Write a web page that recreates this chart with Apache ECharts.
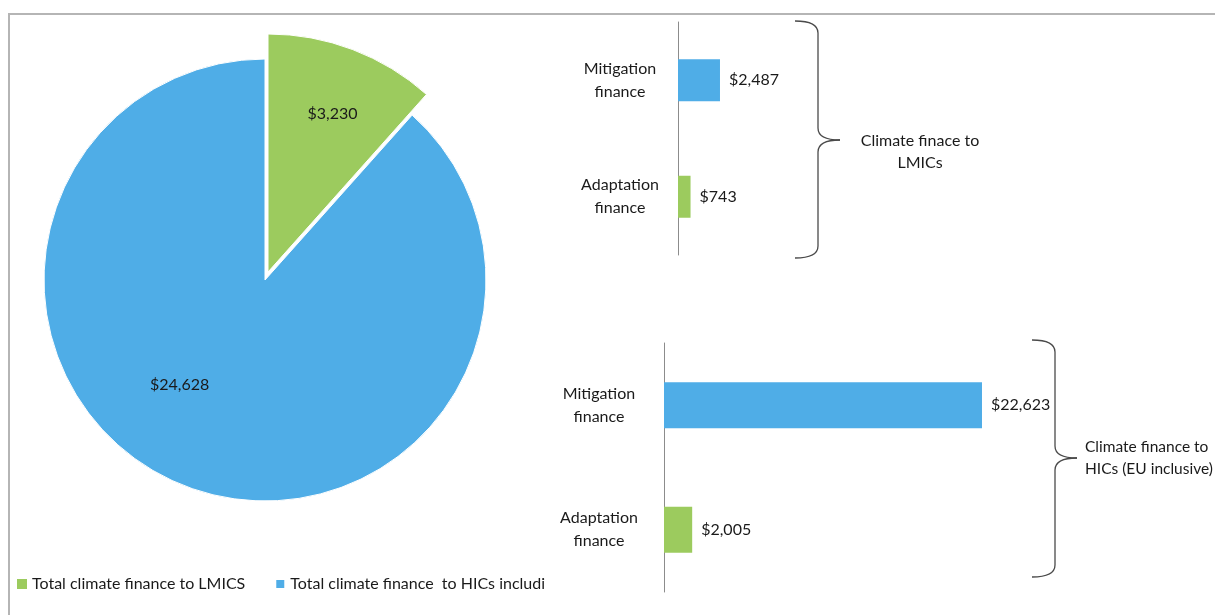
<!DOCTYPE html>
<html>
<head>
<meta charset="utf-8">
<script src="https://cdn.jsdelivr.net/npm/echarts@6/dist/echarts.min.js"></script>
<style>
  html, body { margin: 0; padding: 0; background: #fff; }
  #chart { width: 1215px; height: 615px; }
</style>
</head>
<body>
<div id="chart"></div>
<script>
// Climate finance split: pie of totals plus mitigation/adaptation breakdowns
const pieNames = ['Total climate finance to LMICS', 'Total climate finance  to HICs including EU'];
const pieValues = [3230, 24628];

const barCategories = ['Mitigation\nfinance', 'Adaptation\nfinance'];
const lmicValues = [2487, 743];
const hicValues = [22623, 2005];

const groupLabels = ['Climate finace to\nLMICs', 'Climate finance to\nHICs (EU inclusive)'];

const BLUE = '#4FADE7';
const GREEN = '#9CCB5E';
const TEXT = '#1a1a1a';
const FONT = 'Lato, "Liberation Sans", sans-serif';
const FS = 16;
const barColors = [BLUE, GREEN];

const money = v => '$' + v.toLocaleString('en-US');

function barSeries(idx, values, width) {
  return {
    type: 'bar',
    xAxisIndex: idx,
    yAxisIndex: idx,
    barWidth: width,
    data: values.map((v, i) => ({ value: v, itemStyle: { color: barColors[i] } })),
    label: {
      show: true, position: 'right', distance: 9,
      fontFamily: FONT, fontSize: FS, color: TEXT,
      formatter: p => money(p.value)
    },
    silent: true
  };
}

function catAxis(idx, margin) {
  return {
    type: 'category', gridIndex: idx, inverse: true, data: barCategories,
    axisLine: { show: true, lineStyle: { color: '#8c8c8c', width: 1 } },
    axisTick: { show: false },
    axisLabel: { align: 'center', margin: margin, fontFamily: FONT, fontSize: FS, lineHeight: 23, color: TEXT }
  };
}

function valAxis(idx) {
  return { type: 'value', gridIndex: idx, min: 0, max: 25000, show: false };
}

// curly brace opening to the right: tails at x0, spine at xs, tip at xt
function brace(x0, xs, xt, yTop, yMid, yBot) {
  const r = 12;
  const style = { stroke: '#4a4a4a', lineWidth: 1.3, fill: null };
  const curve = (x1, y1, cx, cy, x2, y2) => ({ type: 'bezierCurve', shape: { x1, y1, cpx1: cx, cpy1: cy, x2, y2 }, style, silent: true });
  const line = (x1, y1, x2, y2) => ({ type: 'line', shape: { x1, y1, x2, y2 }, style, silent: true });
  return [
    curve(x0, yTop, xs, yTop, xs, yTop + r),
    line(xs, yTop + r, xs, yMid - r),
    curve(xs, yMid - r, xs, yMid, xt, yMid),
    curve(xt, yMid, xs, yMid, xs, yMid + r),
    line(xs, yMid + r, xs, yBot - r),
    curve(xs, yBot - r, xs, yBot, x0, yBot)
  ];
}

const chart = echarts.init(document.getElementById('chart'), null, { renderer: 'canvas' });

chart.setOption({
  animation: false,
  backgroundColor: '#fff',
  textStyle: { fontFamily: FONT },
  legend: {
    left: 17, top: 576, padding: 0,
    itemWidth: 10, itemHeight: 10, itemGap: 29,
    icon: 'rect',
    selectedMode: false,
    textStyle: { fontFamily: FONT, fontSize: FS, color: TEXT, width: 258, overflow: 'truncate', ellipsis: '' },
    data: [
      { name: pieNames[0], itemStyle: { color: GREEN } },
      { name: pieNames[1], itemStyle: { color: BLUE } }
    ]
  },
  grid: [
    { left: 678, top: 22, width: 422, height: 233 },
    { left: 664, top: 343, width: 351.4, height: 249 }
  ],
  xAxis: [valAxis(0), valAxis(1)],
  yAxis: [catAxis(0, 58), catAxis(1, 65)],
  series: [
    // large slice (HICs); the LMICS share is left empty here
    {
      type: 'pie', name: 'HICs', center: [265, 280], radius: 221,
      startAngle: 90, clockwise: true, silent: true,
      itemStyle: { borderColor: '#fff', borderWidth: 1 },
      label: { show: true, position: 'inside', fontFamily: FONT, fontSize: FS, color: TEXT },
      labelLine: { show: false },
      data: [
        { name: pieNames[0], value: pieValues[0], itemStyle: { color: 'rgba(0,0,0,0)', borderWidth: 0 }, label: { show: false } },
        { name: pieNames[1], value: pieValues[1], itemStyle: { color: BLUE }, label: { formatter: p => money(p.value), offset: [-45, -1] } }
      ]
    },
    // exploded LMICS slice
    {
      type: 'pie', name: 'LMICS', center: [268, 272], radius: 238,
      startAngle: 90, clockwise: true, silent: true,
      itemStyle: { borderColor: '#fff', borderWidth: 1 },
      label: { show: true, position: 'inside', fontFamily: FONT, fontSize: FS, color: TEXT },
      labelLine: { show: false },
      data: [
        { name: pieNames[0], value: pieValues[0], itemStyle: { color: GREEN }, label: { formatter: p => money(p.value), offset: [21, -44] } },
        { name: pieNames[1], value: pieValues[1], itemStyle: { color: 'rgba(0,0,0,0)', borderWidth: 0 }, label: { show: false } }
      ]
    },
    barSeries(0, lmicValues, 42),
    barSeries(1, hicValues, 46)
  ],
  graphic: [
    // frame
    { type: 'polyline', shape: { points: [[9, 615], [9, 14], [1215, 14]] }, style: { stroke: '#b5b5b5', lineWidth: 2, fill: null }, silent: true },
    ...brace(795, 818, 840, 21, 140, 258),
    ...brace(1032, 1055, 1077, 340, 458, 577),
    { type: 'text', x: 920, y: 130, style: { text: groupLabels[0], font: FS + 'px ' + FONT, fill: TEXT, align: 'center', verticalAlign: 'top', lineHeight: 22 }, silent: true },
    { type: 'text', x: 1085, y: 436, style: { text: groupLabels[1], font: '15.5px ' + FONT, fill: TEXT, align: 'left', verticalAlign: 'top', lineHeight: 22 }, silent: true }
  ]
});
</script>
</body>
</html>
